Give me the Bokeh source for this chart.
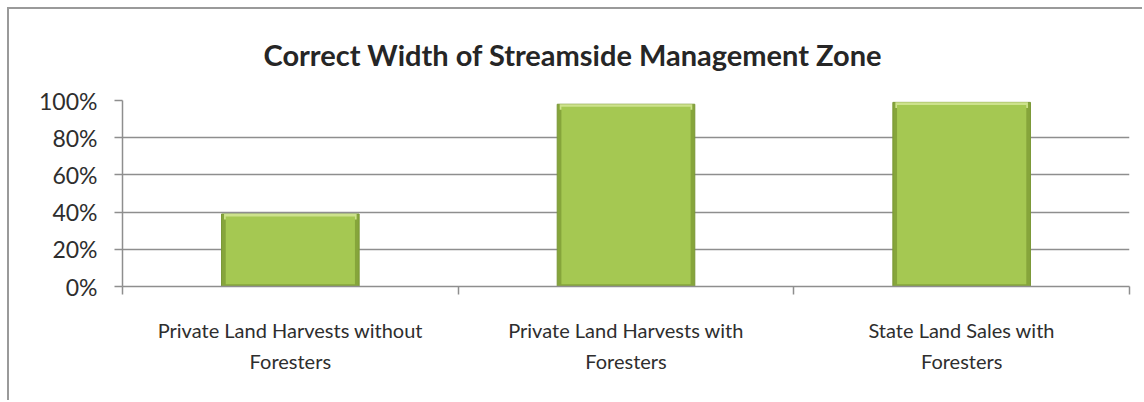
from bokeh.plotting import figure
from bokeh.models import FixedTicker, NumeralTickFormatter, Range1d, ColumnDataSource
from bokeh.embed import file_html
from bokeh.resources import INLINE

title_text = "Correct Width of Streamside Management Zone"
categories = [
    "Private Land Harvests without\nForesters",
    "Private Land Harvests with\nForesters",
    "State Land Sales with\nForesters",
]
values = [0.39, 0.98, 0.99]
y_ticks = [0, 0.2, 0.4, 0.6, 0.8, 1.0]

FONT = "Lato"
GRID = "#8e8e8e"
TEXT = "#2e2e2e"

centers = [i + 0.5 for i in range(len(categories))]
src = ColumnDataSource(dict(
    x=centers, top=values,
    inner_top=[v - 0.014 for v in values],
    rim_bottom=[v - 0.03 for v in values],
))

p = figure(width=1135, height=393, output_backend="svg", toolbar_location=None,
           x_range=Range1d(0, len(categories)), y_range=Range1d(0, 1.0),
           min_border_left=113, min_border_right=15, min_border_bottom=116,
           min_border_top=91)
p.styles = {"margin-left": "7px", "margin-top": "7px",
            "border-left": "2px solid #9a9a9a", "border-top": "2px solid #9a9a9a"}

p.title.text = title_text
p.title.align = "left"
p.title.offset = 141
p.title.vertical_align = "top"
p.title.standoff = 53
p.title.text_font = FONT
p.title.text_font_size = "29px"
p.title.text_font_style = "bold"
p.title.text_color = "#262626"

p.outline_line_color = None
p.xgrid.grid_line_color = None
p.ygrid.grid_line_color = GRID
p.ygrid.grid_line_width = 1.5
p.ygrid.ticker = FixedTicker(ticks=y_ticks)

# bevelled bars: dark edge, light top rim, body
p.vbar(x="x", top="top", width=0.41, bottom=0, source=src,
       fill_color="#86a53b", line_color="#7a9836", line_width=1)
p.vbar(x="x", top="top", width=0.395, bottom="rim_bottom", source=src,
       fill_color="#cde28c", line_color=None)
p.vbar(x="x", top="inner_top", width=0.385, bottom=0.012, source=src,
       fill_color="#a5c852", line_color=None)

p.yaxis.ticker = FixedTicker(ticks=y_ticks)
p.yaxis.formatter = NumeralTickFormatter(format="0%")
p.yaxis.axis_line_color = GRID
p.yaxis.axis_line_width = 1.5
p.yaxis.major_tick_line_color = GRID
p.yaxis.major_tick_line_width = 1.5
p.yaxis.major_tick_out = 8
p.yaxis.major_tick_in = 0
p.yaxis.minor_tick_line_color = None
p.yaxis.major_label_text_font = FONT
p.yaxis.major_label_text_font_size = "23px"
p.yaxis.major_label_text_color = TEXT
p.yaxis.major_label_standoff = 17

p.xaxis.ticker = FixedTicker(ticks=centers, minor_ticks=list(range(len(categories) + 1)))
p.xaxis.major_label_overrides = {c: lab for c, lab in zip(centers, categories)}
p.xaxis.axis_line_color = GRID
p.xaxis.axis_line_width = 1.5
p.xaxis.major_tick_line_color = None
p.xaxis.major_tick_out = 0
p.xaxis.major_tick_in = 0
p.xaxis.minor_tick_line_color = GRID
p.xaxis.minor_tick_line_width = 1.5
p.xaxis.minor_tick_out = 8
p.xaxis.minor_tick_in = 0
p.xaxis.major_label_text_font = FONT
p.xaxis.major_label_text_font_size = "20px"
p.xaxis.major_label_text_color = TEXT
p.xaxis.major_label_standoff = 23
p.xaxis.major_label_text_line_height = 1.3

open("out.html", "w").write(file_html(p, INLINE))
